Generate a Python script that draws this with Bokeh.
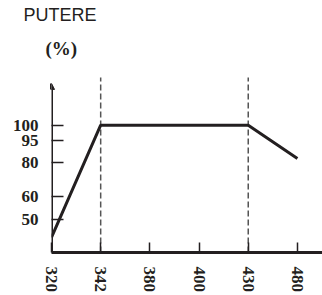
import numpy as np
from bokeh.plotting import figure
from bokeh.models import Range1d, FixedTicker, Arrow, NormalHead, Title
from bokeh.embed import file_html
from bokeh.resources import INLINE

# data
x_labels = ["320", "342", "380", "400", "430", "480"]
power_x = ["320", "342", "430", "480"]
power_values = [23, 100, 100, 83]
y_tick_values = [50, 60, 80, 95, 100]
marked_x = ["342", "430"]

# schematic (non-linear) power scale: value -> axis height
scale_values = [0, 50, 60, 80, 95, 100]
scale_heights = [0, 33, 56, 90, 113, 128]

def yscale(v):
    return np.interp(v, scale_values, scale_heights)

idx = {lab: i for i, lab in enumerate(x_labels)}

INK = "#231f20"

p = figure(width=322, height=295, output_backend="svg", toolbar_location=None,
           x_range=Range1d(0, 5.51), y_range=Range1d(0, 183),
           min_border_left=51, min_border_right=0, min_border_top=70, min_border_bottom=42)
p.outline_line_color = None
p.xgrid.visible = False
p.ygrid.visible = False

# x axis
p.xaxis.ticker = FixedTicker(ticks=list(range(len(x_labels))))
p.xaxis.major_label_overrides = {i: lab for i, lab in enumerate(x_labels)}
p.xaxis.major_label_orientation = "vertical"
p.xaxis.major_label_text_font = "Liberation Serif"
p.xaxis.major_label_text_font_style = "bold"
p.xaxis.major_label_text_font_size = "17px"
p.xaxis.major_label_text_color = INK
p.xaxis.major_label_standoff = 14
p.xaxis.major_tick_in = 10
p.xaxis.major_tick_out = 0
p.xaxis.major_tick_line_width = 1.5
p.xaxis.major_tick_line_color = INK
p.xaxis.minor_tick_line_color = None
p.xaxis.axis_line_width = 3
p.xaxis.axis_line_color = INK

# y axis
ypos = [float(yscale(v)) for v in y_tick_values]
p.yaxis.ticker = FixedTicker(ticks=ypos)
p.yaxis.major_label_overrides = {pos: str(v) for pos, v in zip(ypos, y_tick_values)}
p.yaxis.major_label_text_font = "Liberation Serif"
p.yaxis.major_label_text_font_style = "bold"
p.yaxis.major_label_text_font_size = "17px"
p.yaxis.major_label_text_color = INK
p.yaxis.major_label_standoff = 13
p.yaxis.major_tick_in = 12
p.yaxis.major_tick_out = 0
p.yaxis.major_tick_line_width = 1.5
p.yaxis.major_tick_line_color = INK
p.yaxis.minor_tick_line_color = None
p.yaxis.axis_line_color = None

# y axis line with arrow
p.add_layout(Arrow(end=NormalHead(size=6, fill_color=INK, line_color=INK, line_width=1),
                   x_start=0, y_start=0, x_end=0, y_end=170,
                   line_width=3, line_color=INK))

# dashed markers
for lab in marked_x:
    p.segment(x0=idx[lab], y0=0, x1=idx[lab], y1=176, line_color="#555555",
              line_width=1.5, line_dash="6 3")

# power line
p.line([idx[l] for l in power_x], [float(yscale(v)) for v in power_values],
       line_color=INK, line_width=3)

# titles (first added sits nearest the frame)
p.add_layout(Title(text="(%)", align="left", offset=-6, standoff=23,
                   text_font="Liberation Serif", text_font_style="bold",
                   text_font_size="19px", text_color=INK), "above")
p.add_layout(Title(text="PUTERE", align="left", offset=-28, standoff=0,
                   text_font="Liberation Sans", text_font_style="normal",
                   text_font_size="18px", text_line_height=0.8, text_color=INK), "above")

open("out.html", "w").write(file_html(p, INLINE))
